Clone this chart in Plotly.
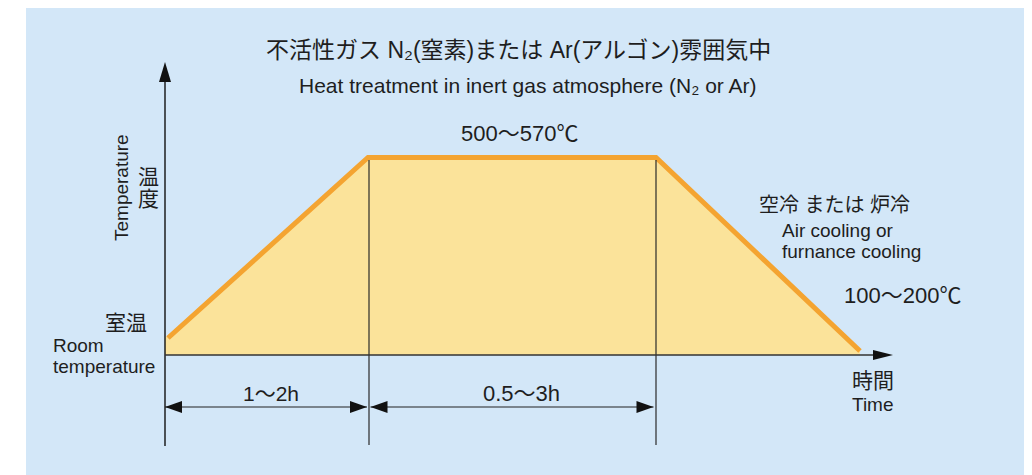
import plotly.graph_objects as go

# ---------------- data (schematic heat-treatment profile) ----------------
# time axis in schematic units (origin at the temperature axis), temperature in schematic units
time_pts = [3, 203, 491, 695]
temp_pts = [17, 197.5, 197.5, 4]
phase_bounds = [0, 203, 490]          # start of heating, start of hold, end of hold
phase_labels = ["1〜2h", "0.5〜3h"]

title_jp = "不活性ガス N₂(窒素)または Ar(アルゴン)雰囲気中"
title_en = "Heat treatment in inert gas atmosphere (N₂ or Ar)"
hold_label = "500〜570℃"
end_label = "100〜200℃"
ylabel_jp = ["温", "度"]
ylabel_en = "Temperature"
room_jp = "室温"
room_en = ["Room", "temperature"]
cool_jp = "空冷 または 炉冷"
cool_en = ["Air cooling or", "furnance cooling"]
xlabel_jp = "時間"
xlabel_en = "Time"

# ---------------- styling ----------------
PAGE_OFF = 8               # default body margin of the html page
W, H = 1032 - PAGE_OFF, 475 - PAGE_OFF
OX, OY = 165, 355          # page-pixel location of the axis origin
BLUE = "#D3E7F8"
FILL = "#FBE39A"
ORANGE = "#F4A431"
INK = "#1e1e1e"
FONT = "Liberation Sans, Arial, Noto Sans CJK JP, sans-serif"


def X(px):
    return px - OX


def Y(py):
    return OY - py


fig = go.Figure()

# filled area under the profile (down to the time axis)
fill_x = [0, 0] + time_pts[1:] + [time_pts[-1]]
fill_y = [0, temp_pts[0]] + temp_pts[1:] + [0]
fig.add_trace(go.Scatter(x=fill_x, y=fill_y, mode="lines", fill="toself",
                         fillcolor=FILL, line=dict(width=0), hoverinfo="skip",
                         showlegend=False))

shapes = []
# background panel
shapes.append(dict(type="rect", xref="paper", yref="paper", x0=(26 - PAGE_OFF) / W, x1=1.01,
                   y0=-0.01, y1=1.01, fillcolor=BLUE, line=dict(width=0), layer="below"))

# vertical dimension lines at phase boundaries
for b in phase_bounds[1:]:
    shapes.append(dict(type="line", x0=b + 1, x1=b + 1, y0=temp_pts[1] - 2.5, y1=Y(445),
                       line=dict(color="#2a2a2a", width=1.2), layer="above"))

# temperature axis
shapes.append(dict(type="line", x0=0, x1=0, y0=Y(446), y1=Y(80),
                   line=dict(color="#111", width=1.4), layer="above"))
shapes.append(dict(type="path", path=f"M -6,{Y(82)} L 0,{Y(62)} L 6,{Y(82)} Z",
                   fillcolor="#111", line=dict(width=0), layer="above"))
# time axis
shapes.append(dict(type="line", x0=0, x1=X(875), y0=0, y1=0,
                   line=dict(color="#333", width=1.4), layer="above"))
shapes.append(dict(type="path", path=f"M {X(873)},5 L {X(893)},0 L {X(873)},-5 Z",
                   fillcolor="#111", line=dict(width=0), layer="above"))

# dimension arrows
yd = Y(407)
segs = [(0, X(367)), (X(370.5), X(653.5))]
for a, b in segs:
    shapes.append(dict(type="line", x0=a, x1=b, y0=yd, y1=yd,
                       line=dict(color="#222", width=1.1), layer="above"))
    shapes.append(dict(type="path", path=f"M {a},{yd} L {a+17},{yd+6} L {a+17},{yd-6} Z",
                       fillcolor="#111", line=dict(width=0), layer="above"))
    shapes.append(dict(type="path", path=f"M {b},{yd} L {b-17},{yd+6} L {b-17},{yd-6} Z",
                       fillcolor="#111", line=dict(width=0), layer="above"))

# the temperature profile line
fig.add_trace(go.Scatter(x=time_pts, y=temp_pts, mode="lines",
                         line=dict(color=ORANGE, width=5), hoverinfo="skip",
                         showlegend=False))

ann = []


def text(s, px, py, size, xanchor="center", angle=0):
    ann.append(dict(text=s, x=X(px), y=Y(py), xref="x", yref="y", showarrow=False,
                    xanchor=xanchor, yanchor="middle", textangle=angle,
                    font=dict(family=FONT, size=size, color=INK)))


text(title_jp, 518, 50, 23)
text(title_en, 528, 85, 21)
text(hold_label, 519, 133, 22)
text(ylabel_jp[0], 148, 176, 21)
text(ylabel_jp[1], 148, 198, 21)
text(ylabel_en, 121, 188, 19, angle=-90)
text(room_jp, 125.5, 322, 21)
text(room_en[0], 51, 345, 19, xanchor="left")
text(room_en[1], 51, 366, 19, xanchor="left")
text(phase_labels[0], 271, 393, 21)
text(phase_labels[1], 521, 393, 22)
text(cool_jp, 834.5, 205, 20)
text(cool_en[0], 780, 230, 19, xanchor="left")
text(cool_en[1], 780, 251, 19, xanchor="left")
text(end_label, 902.5, 295, 22)
text(xlabel_jp, 872.5, 380, 21)
text(xlabel_en, 873, 404, 19)

# page pixel (PAGE_OFF, PAGE_OFF) is the figure's top-left corner
fig.update_layout(
    width=W, height=H, autosize=False,
    margin=dict(l=0, r=0, t=0, b=0),
    paper_bgcolor="white", plot_bgcolor="rgba(0,0,0,0)",
    shapes=shapes, annotations=ann, showlegend=False,
    xaxis=dict(range=[X(PAGE_OFF), X(PAGE_OFF + W)], visible=False, fixedrange=True),
    yaxis=dict(range=[Y(PAGE_OFF + H), Y(PAGE_OFF)], visible=False, fixedrange=True),
)

fig.write_html("out.html")
